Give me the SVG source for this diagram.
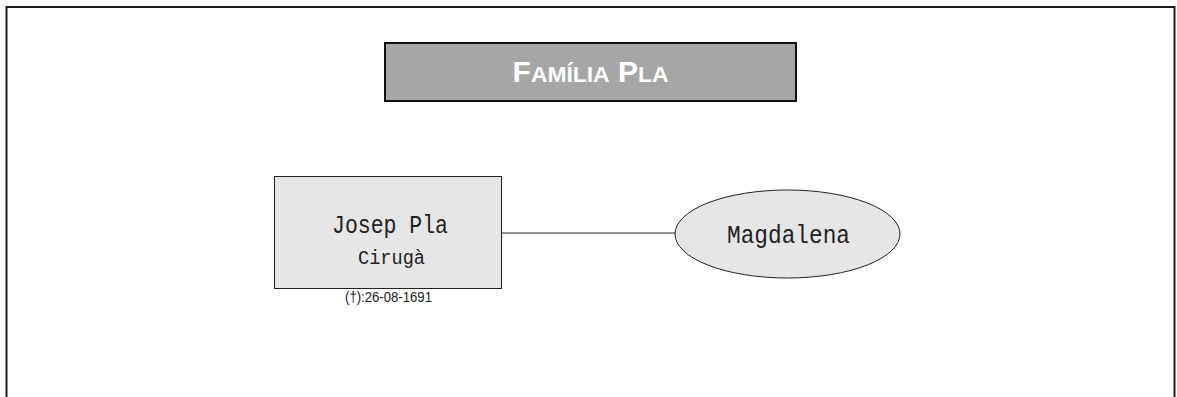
<svg xmlns="http://www.w3.org/2000/svg" width="1177" height="397" viewBox="0 0 1177 397">
<style>
.frame{fill:none;stroke:#1a1a1a;stroke-width:2}
.title{fill:#a6a6a6;stroke:#111;stroke-width:2}
.tt{font-family:"Liberation Sans",Arial,sans-serif;font-weight:bold;fill:#fff}
.person{fill:#e6e6e6;stroke:#222;stroke-width:1}
.mono{font-family:"Liberation Mono","Courier New",monospace;fill:#222}
.sans{font-family:"Liberation Sans",Arial,sans-serif;fill:#222}
.conn{stroke:#222;stroke-width:1;fill:none}
</style>
<rect width="1177" height="397" fill="#fff"/>
<path class="frame" d="M6.5 400 V7 H1174.5 V400"/>
<g id="title">
<rect class="title" x="385" y="43" width="411" height="58"/>
<text class="tt" x="590.5" y="82" text-anchor="middle" font-size="29" textLength="156" lengthAdjust="spacingAndGlyphs">F<tspan font-size="22">AMÍLIA</tspan> P<tspan font-size="22">LA</tspan></text>
</g>
<g id="connectors">
<line class="conn" x1="502" y1="233" x2="676" y2="233"/>
</g>
<g id="josep">
<rect class="person" x="274.5" y="176.5" width="227" height="112"/>
<text class="mono" x="390" y="233" text-anchor="middle" font-size="25" textLength="116" lengthAdjust="spacingAndGlyphs">Josep Pla</text>
<text class="mono" x="391.5" y="264" text-anchor="middle" font-size="20" textLength="67" lengthAdjust="spacingAndGlyphs">Cirugà</text>
<text class="sans" x="388.5" y="302" text-anchor="middle" font-size="14" textLength="87" lengthAdjust="spacingAndGlyphs">(†):26-08-1691</text>
</g>
<g id="magdalena">
<ellipse class="person" cx="787.5" cy="234" rx="112.5" ry="44"/>
<text class="mono" x="788.5" y="243" text-anchor="middle" font-size="25" textLength="123" lengthAdjust="spacingAndGlyphs">Magdalena</text>
</g>
</svg>
